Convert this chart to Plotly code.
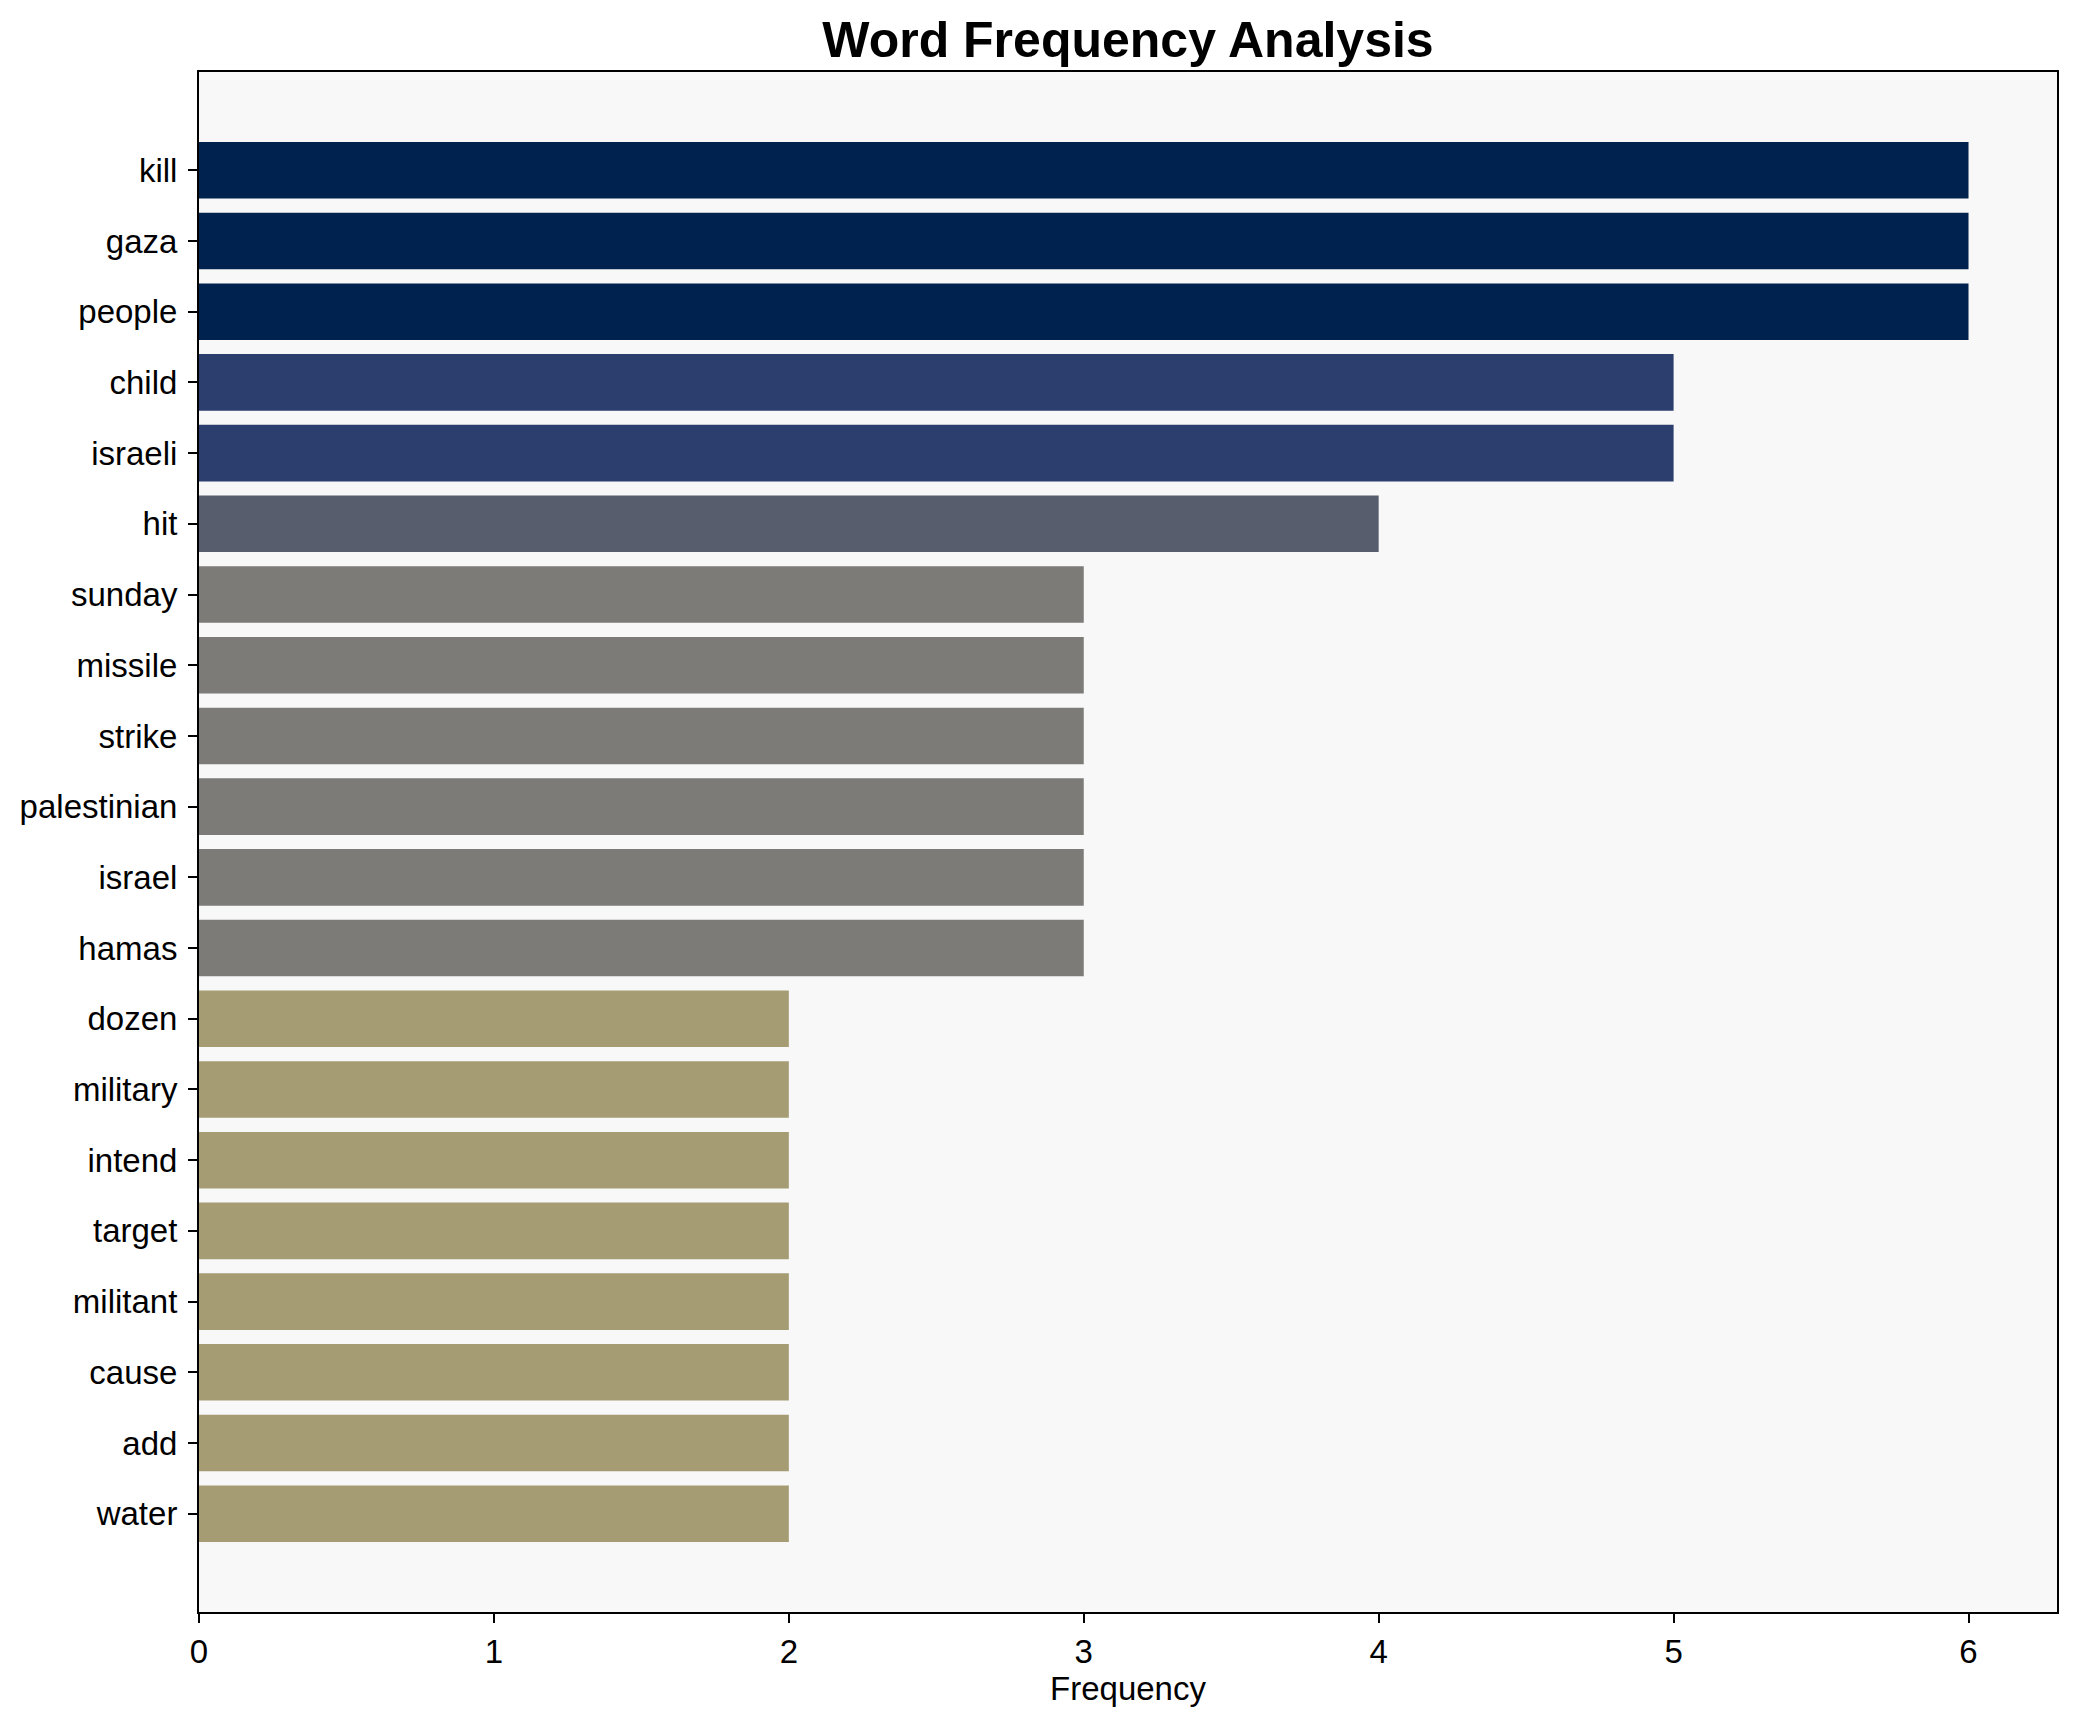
import plotly.graph_objects as go

words = ["kill", "gaza", "people", "child", "israeli", "hit", "sunday", "missile",
         "strike", "palestinian", "israel", "hamas", "dozen", "military", "intend",
         "target", "militant", "cause", "add", "water"]
freqs = [6, 6, 6, 5, 5, 4, 3, 3, 3, 3, 3, 3, 2, 2, 2, 2, 2, 2, 2, 2]
color_by_freq = {6: "#00224E", 5: "#2B3E6D", 4: "#575D6D", 3: "#7C7B78", 2: "#A59C74"}
x_ticks = [0, 1, 2, 3, 4, 5, 6]

colors = [color_by_freq[f] for f in freqs]

fig = go.Figure(go.Bar(
    x=freqs, y=words, orientation="h", width=0.8,
    marker=dict(color=colors, line=dict(width=0)),
))

W, H = 2062, 1706
fig.update_layout(
    width=W, height=H,
    paper_bgcolor="white", plot_bgcolor="#F8F8F8",
    margin=dict(l=191, r=11, t=64, b=102),
    font=dict(family="Liberation Sans, Arial, sans-serif", color="black"),
    title=dict(text="<b>Word Frequency Analysis</b>", x=0.5, xanchor="center", xref="paper",
               y=1 - 31 / H, yanchor="middle", yref="container",
               font=dict(size=50, color="black")),
    showlegend=False,
    bargap=0.2,
)
fig.update_xaxes(
    range=[0, 6.3], tickvals=x_ticks, ticktext=[str(t) for t in x_ticks],
    showgrid=False, zeroline=False,
    showline=True, mirror=True, linecolor="black", linewidth=2,
    ticks="outside", ticklen=9, tickwidth=1.5, tickcolor="black",
    tickfont=dict(size=33),
    title=dict(text="Frequency", font=dict(size=33), standoff=8),
)
fig.update_yaxes(
    categoryorder="array", categoryarray=words,
    range=[20.39, -1.39],
    showgrid=False, zeroline=False,
    showline=True, mirror=True, linecolor="black", linewidth=2,
    ticks="outside", ticklen=9, tickwidth=1.5, tickcolor="black",
    tickfont=dict(size=33), ticklabelstandoff=4,
)

fig.write_html("out.html")
